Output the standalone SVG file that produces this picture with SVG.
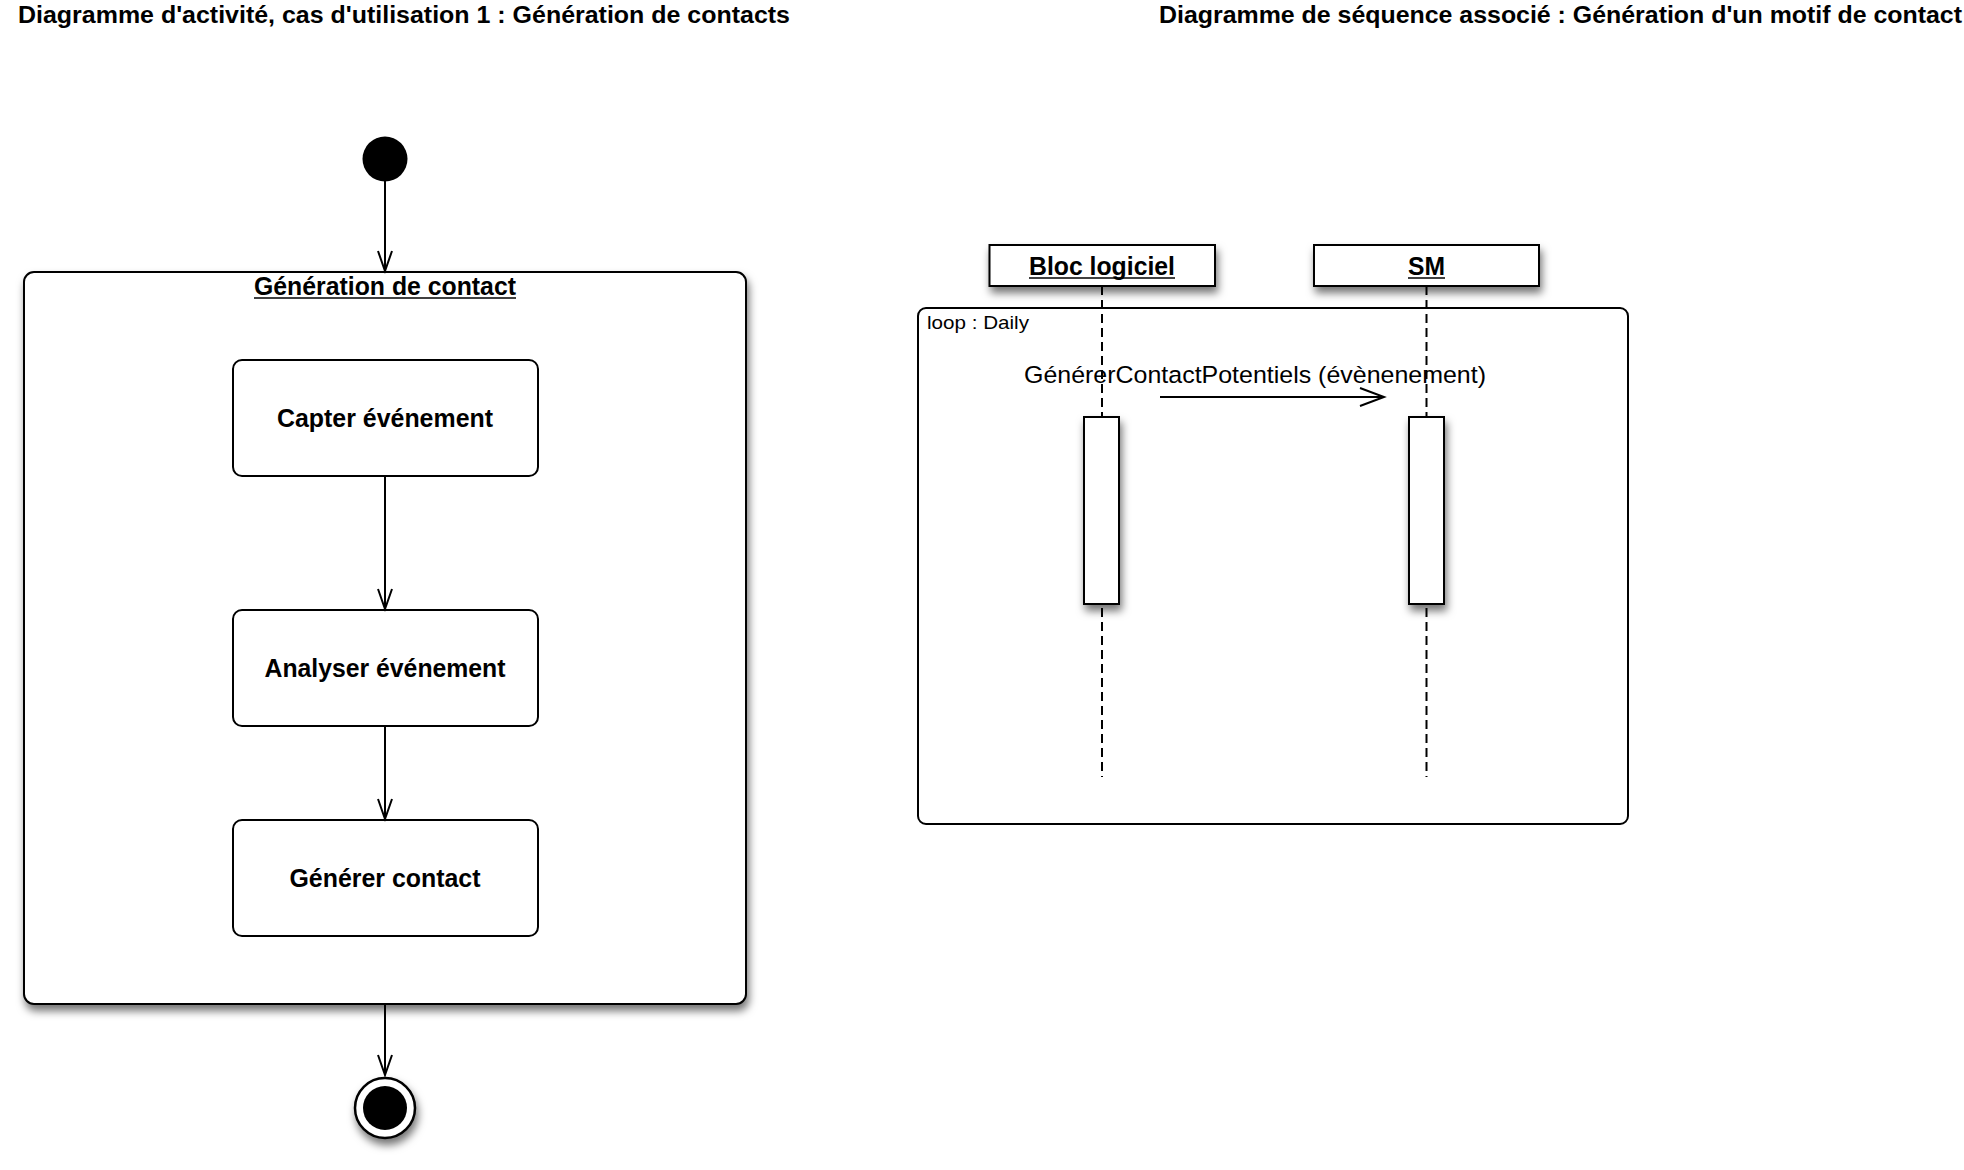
<svg xmlns="http://www.w3.org/2000/svg" width="1964" height="1170" viewBox="0 0 1964 1170">
<style>
  .title { font-family: "Liberation Sans", Arial, sans-serif; font-weight: bold; font-size: 23px; fill: #000; }
  .bold { font-family: "Liberation Sans", Arial, sans-serif; font-weight: bold; font-size: 25px; fill: #000; text-anchor: middle; }
  .reg { font-family: "Liberation Sans", Arial, sans-serif; font-size: 23px; fill: #000; }
  .box { fill: #fff; stroke: #000; stroke-width: 2; }
  .ul { stroke: #000; stroke-width: 1.6; }
  .conn { stroke: #000; stroke-width: 2; fill: none; }
  .life { stroke: #000; stroke-width: 2; stroke-dasharray: 9 5; fill: none; }
</style>
<defs>
  <filter id="sh" x="-30%" y="-30%" width="170%" height="170%">
    <feDropShadow dx="2" dy="6" stdDeviation="4" flood-color="#000" flood-opacity="0.55"/>
  </filter>
  <marker id="arrA" markerUnits="userSpaceOnUse" markerWidth="30" markerHeight="30" refX="20" refY="7" orient="auto" overflow="visible">
    <path d="M0,0 L20,7 L0,14" fill="none" stroke="#000" stroke-width="2"/>
  </marker>
  <marker id="arrB" markerUnits="userSpaceOnUse" markerWidth="30" markerHeight="30" refX="24" refY="9" orient="auto" overflow="visible">
    <path d="M0,0 L24,9 L0,18" fill="none" stroke="#000" stroke-width="2"/>
  </marker>
</defs>
<rect width="1964" height="1170" fill="#fff"/>

<g id="titles">
  <text class="title" x="18" y="23" textLength="772" lengthAdjust="spacingAndGlyphs">Diagramme d'activité, cas d'utilisation 1 : Génération de contacts</text>
  <text class="title" x="1159" y="23" textLength="803" lengthAdjust="spacingAndGlyphs">Diagramme de séquence associé : Génération d'un motif de contact</text>
</g>

<g id="activity-generation">
  <rect class="box" x="24" y="272" width="722" height="732" rx="10" filter="url(#sh)"/>
  <text class="bold" x="385" y="295" textLength="262" lengthAdjust="spacingAndGlyphs">Génération de contact</text>
  <line class="ul" x1="254" y1="298" x2="516" y2="298"/>
</g>

<g id="initial">
  <circle cx="385" cy="159" r="22.5" fill="#000"/>
</g>

<g id="capter">
  <rect class="box" x="233" y="360" width="305" height="116" rx="9"/>
  <text class="bold" x="385" y="427" textLength="216" lengthAdjust="spacingAndGlyphs">Capter événement</text>
</g>

<g id="analyser">
  <rect class="box" x="233" y="610" width="305" height="116" rx="9"/>
  <text class="bold" x="385" y="676.5" textLength="241" lengthAdjust="spacingAndGlyphs">Analyser événement</text>
</g>

<g id="generer">
  <rect class="box" x="233" y="820" width="305" height="116" rx="9"/>
  <text class="bold" x="385" y="887" textLength="191" lengthAdjust="spacingAndGlyphs">Générer contact</text>
</g>

<g id="final">
  <circle cx="385" cy="1108" r="30" fill="#fff" stroke="#000" stroke-width="2.5" filter="url(#sh)"/>
  <circle cx="385" cy="1108" r="22" fill="#000"/>
</g>

<g id="loop-frame">
  <rect x="918" y="308" width="710" height="516" rx="8" fill="none" stroke="#000" stroke-width="2"/>
  <text class="reg" x="927" y="329" textLength="102" lengthAdjust="spacingAndGlyphs" style="font-size:19px">loop : Daily</text>
</g>

<g id="bloc-logiciel">
  <line class="life" x1="1102" y1="286" x2="1102" y2="777"/>
  <rect class="box" x="989.5" y="245" width="225.5" height="41" filter="url(#sh)"/>
  <text class="bold" x="1102" y="275" textLength="146" lengthAdjust="spacingAndGlyphs">Bloc logiciel</text>
  <line class="ul" x1="1029" y1="278" x2="1175" y2="278"/>
  <rect class="box" x="1084" y="417" width="35" height="187" filter="url(#sh)"/>
</g>

<g id="sm">
  <line class="life" x1="1426.5" y1="286" x2="1426.5" y2="777"/>
  <rect class="box" x="1314" y="245" width="225" height="41" filter="url(#sh)"/>
  <text class="bold" x="1426.5" y="275" textLength="37" lengthAdjust="spacingAndGlyphs">SM</text>
  <line class="ul" x1="1408" y1="278" x2="1445" y2="278"/>
  <rect class="box" x="1409" y="417" width="35" height="187" filter="url(#sh)"/>
</g>

<g id="connectors">
  <line class="conn" x1="385" y1="181" x2="385" y2="271" marker-end="url(#arrA)"/>
  <line class="conn" x1="385" y1="476" x2="385" y2="609" marker-end="url(#arrA)"/>
  <line class="conn" x1="385" y1="726" x2="385" y2="819" marker-end="url(#arrA)"/>
  <line class="conn" x1="385" y1="1005" x2="385" y2="1075" marker-end="url(#arrA)"/>
  <line class="conn" x1="1160" y1="397" x2="1384" y2="397" marker-end="url(#arrB)"/>
  <text class="reg" x="1024" y="382.5" textLength="462" lengthAdjust="spacingAndGlyphs" style="font-size:24.5px">GénérerContactPotentiels (évènenement)</text>
</g>
</svg>
